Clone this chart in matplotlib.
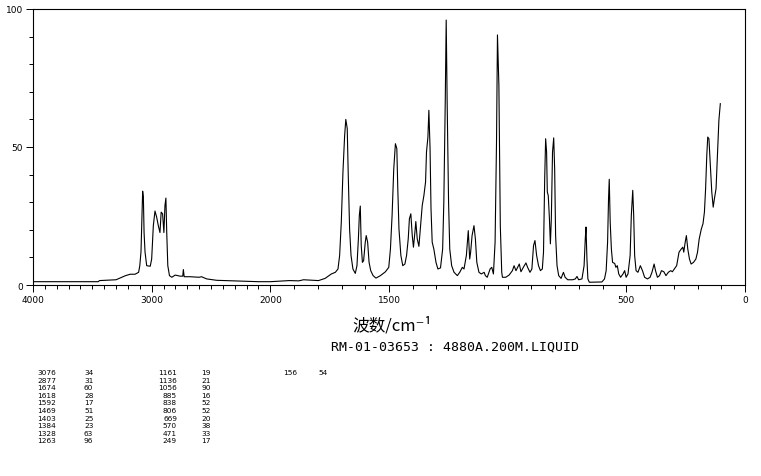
import numpy as np
import matplotlib
matplotlib.use("Agg")
import matplotlib.pyplot as plt
from matplotlib.ticker import FixedLocator

# ---- data ----
wavenumber = [
    4000, 3450, 3440, 3300, 3220, 3180, 3140, 3110, 3100, 3090, 3082, 3076, 3070, 3064, 3056, 3042,
    3012, 3000, 2986, 2972, 2958, 2944, 2930, 2920, 2908, 2897, 2888, 2880, 2873, 2864, 2850, 2830,
    2802, 2760, 2738, 2733, 2726, 2676, 2600, 2580, 2536, 2452, 2312, 2100, 2000, 1920, 1880, 1860,
    1820, 1797, 1769, 1743, 1726, 1715, 1708, 1701, 1694, 1687, 1682, 1676, 1672, 1666, 1660, 1652,
    1642, 1635, 1629, 1625, 1621, 1617, 1612, 1607, 1600, 1596, 1590, 1584, 1577, 1567, 1555, 1536,
    1515, 1501, 1494, 1487, 1480, 1473, 1467, 1463, 1458, 1450, 1442, 1433, 1426, 1419, 1414, 1408,
    1402, 1397, 1391, 1387, 1381, 1374, 1367, 1360, 1353, 1346, 1342, 1336, 1332, 1327, 1323, 1318,
    1311, 1302, 1294, 1283, 1274, 1269, 1263, 1259, 1255, 1249, 1244, 1236, 1226, 1212, 1202, 1191,
    1184, 1174, 1166, 1160, 1156, 1150, 1142, 1136, 1130, 1121, 1111, 1099, 1094, 1086, 1074, 1067,
    1060, 1053, 1047, 1043, 1037, 1031, 1025, 1022, 1008, 994, 980, 973, 965, 958, 951, 944,
    934, 923, 916, 906, 898, 891, 885, 878, 870, 862, 854, 849, 844, 840, 836, 833,
    829, 824, 820, 816, 811, 806, 802, 798, 792, 785, 775, 765, 758, 747, 726, 715,
    708, 701, 687, 678, 673, 670, 666, 662, 656, 603, 592, 585, 579, 575, 572, 568,
    563, 558, 549, 544, 538, 532, 524, 514, 507, 501, 493, 484, 479, 473, 469, 465,
    459, 451, 441, 432, 423, 411, 400, 392, 383, 377, 369, 360, 352, 342, 333, 323,
    313, 306, 298, 288, 278, 269, 262, 258, 252, 247, 241, 234, 227, 217, 207, 200,
    193, 184, 177, 171, 166, 161, 157, 152, 146, 140, 134, 129, 122, 116, 110, 104,
]
intensity = [
    1.2, 1.2, 1.6, 1.9, 3.4, 3.9, 3.9, 4.6, 7, 12, 24, 34, 32, 19, 12, 7,
    6.8, 9.4, 21.5, 26.8, 24.6, 21.5, 19, 26.4, 25.8, 19, 28.8, 31.5, 19, 7, 3.4, 2.8,
    3.6, 3.2, 3.2, 5.6, 3.0, 3.0, 2.8, 3.0, 2.2, 1.7, 1.5, 1.2, 1.2, 1.6, 1.5, 1.9,
    1.7, 1.6, 2.4, 4.0, 4.6, 5.8, 10.7, 22.8, 41, 54, 60, 56.7, 41, 20.3, 10.7, 5.8,
    4.2, 7, 16.7, 25.2, 28.6, 14.3, 8.2, 8.8, 15.5, 17.9, 15.5, 8.2, 5.2, 3.4, 2.5, 3.4,
    4.8, 6.4, 13, 25.2, 42, 51.2, 49.4, 35, 20.3, 10.7, 7, 7.6, 10.7, 16.7, 24, 25.8,
    17.9, 13.7, 19, 23, 16.7, 14, 21.5, 28.8, 32.4, 37.3, 48.2, 53.6, 63.3, 49.4, 27.6, 15.5,
    13, 8.2, 5.8, 6.2, 13, 30, 66.4, 96, 66.4, 30, 13, 7, 4.6, 3.4, 4.6, 6.4,
    5.8, 10.7, 19.7, 9.4, 11.9, 17.9, 21.5, 16.7, 8.2, 4.6, 4, 4.6, 3.4, 2.8, 5.8, 6.4,
    4, 15.5, 51.8, 90.6, 72.4, 21.5, 4.6, 2.8, 2.8, 3.6, 5.2, 7, 5.2, 6.4, 7.6, 4.8,
    6.4, 8, 6.4, 4.6, 5.8, 14.3, 16.1, 10.7, 7, 5.2, 5.8, 11.9, 38.5, 53, 48.2, 33.7,
    32.4, 24, 14.9, 24, 48.2, 53.3, 42, 17.9, 7, 3.4, 2.4, 4.6, 2.8, 1.9, 1.9, 2.2,
    3.1, 1.9, 2.2, 7, 16.7, 21, 9.4, 2.2, 1.0, 1.1, 2.2, 5.2, 15.5, 31.2, 38.3, 22.8,
    13, 8.2, 7.8, 6.4, 7, 4, 2.8, 4, 5.2, 2.8, 4, 10.7, 25.2, 34.3, 25.2, 10.7,
    5.2, 4.6, 7, 5.2, 2.8, 2.2, 2.8, 4.6, 7.6, 5.2, 2.8, 3.4, 5.2, 4.8, 3.4, 4.6,
    5.2, 4.8, 5.8, 7, 11.9, 13, 13.7, 11.9, 15.5, 17.9, 13, 9.4, 7.6, 8.2, 9.4, 11.9,
    16.7, 20.3, 22.2, 26.4, 34.9, 47, 53.6, 53, 43.3, 33.7, 28.2, 31.2, 34.9, 47, 59.7, 65.7,
]

x_tick_values = [4000, 3000, 2000, 1500, 500, 0]
x_tick_labels = ["4000", "3000", "2000", "1500", "500", "0"]
y_tick_values = [0, 50, 100]

peak_wn_col1 = ["3076", "2877", "1674", "1618", "1592", "1469", "1403", "1384", "1328", "1263"]
peak_int_col1 = ["34", "31", "60", "28", "17", "51", "25", "23", "63", "96"]
peak_wn_col2 = ["1161", "1136", "1056", "885", "838", "806", "669", "570", "471", "249"]
peak_int_col2 = ["19", "21", "90", "16", "52", "52", "20", "38", "33", "17"]
peak_wn_col3 = ["156"]
peak_int_col3 = ["54"]

x_title = "波数/cm⁻¹"
subtitle = "RM-01-03653 : 4880A.200M.LIQUID"

# ---- figure ----
W, H = 761, 477
fig = plt.figure(figsize=(W / 100, H / 100), dpi=100)
ax = fig.add_axes([33 / W, 1 - 286 / H, (745 - 33) / W, (286 - 10) / H])


def fwd(w):
    w = np.asarray(w, dtype=float)
    return np.where(w >= 2000, w / 2.0 + 1000.0, w)


def inv(u):
    u = np.asarray(u, dtype=float)
    return np.where(u >= 2000, (u - 1000.0) * 2.0, u)


ax.set_xscale("function", functions=(fwd, inv))
ax.plot(wavenumber, intensity, color="black", lw=0.8)
ax.set_xlim(4000, 0)
ax.set_ylim(0, 100)

ax.xaxis.set_major_locator(FixedLocator(x_tick_values))
ax.set_xticklabels(x_tick_labels)
ax.xaxis.set_minor_locator(FixedLocator(list(range(0, 4001, 100))))
ax.yaxis.set_major_locator(FixedLocator(y_tick_values))
ax.set_yticklabels([str(v) for v in y_tick_values])
ax.yaxis.set_minor_locator(FixedLocator(list(range(0, 101, 10))))

ax.tick_params(axis="both", which="major", direction="out", length=5, width=0.7,
               labelsize=6.5, pad=2)
ax.tick_params(axis="both", which="minor", direction="out", length=3, width=0.7)
for s in ax.spines.values():
    s.set_linewidth(0.8)

fig.text(392 / W, 1 - 326 / H, x_title, ha="center", va="center", fontsize=12,
         family=["Noto Sans CJK SC", "DejaVu Sans"])
fig.text(455 / W, 1 - 347 / H, subtitle, ha="center", va="center", fontsize=9.5,
         family="DejaVu Sans Mono")

# peak table, one text per cell
row0 = 373
dy = 7.6
tkw = dict(va="center", fontsize=5.3, family="DejaVu Sans")
for i in range(len(peak_wn_col1)):
    y = 1 - (row0 + i * dy) / H
    fig.text(56 / W, y, peak_wn_col1[i], ha="right", **tkw)
    fig.text(84 / W, y, peak_int_col1[i], ha="left", **tkw)
for i in range(len(peak_wn_col2)):
    y = 1 - (row0 + i * dy) / H
    fig.text(177 / W, y, peak_wn_col2[i], ha="right", **tkw)
    fig.text(201 / W, y, peak_int_col2[i], ha="left", **tkw)
for i in range(len(peak_wn_col3)):
    y = 1 - (row0 + i * dy) / H
    fig.text(283 / W, y, peak_wn_col3[i], ha="left", **tkw)
    fig.text(318 / W, y, peak_int_col3[i], ha="left", **tkw)

fig.savefig("out.png", dpi=100)
